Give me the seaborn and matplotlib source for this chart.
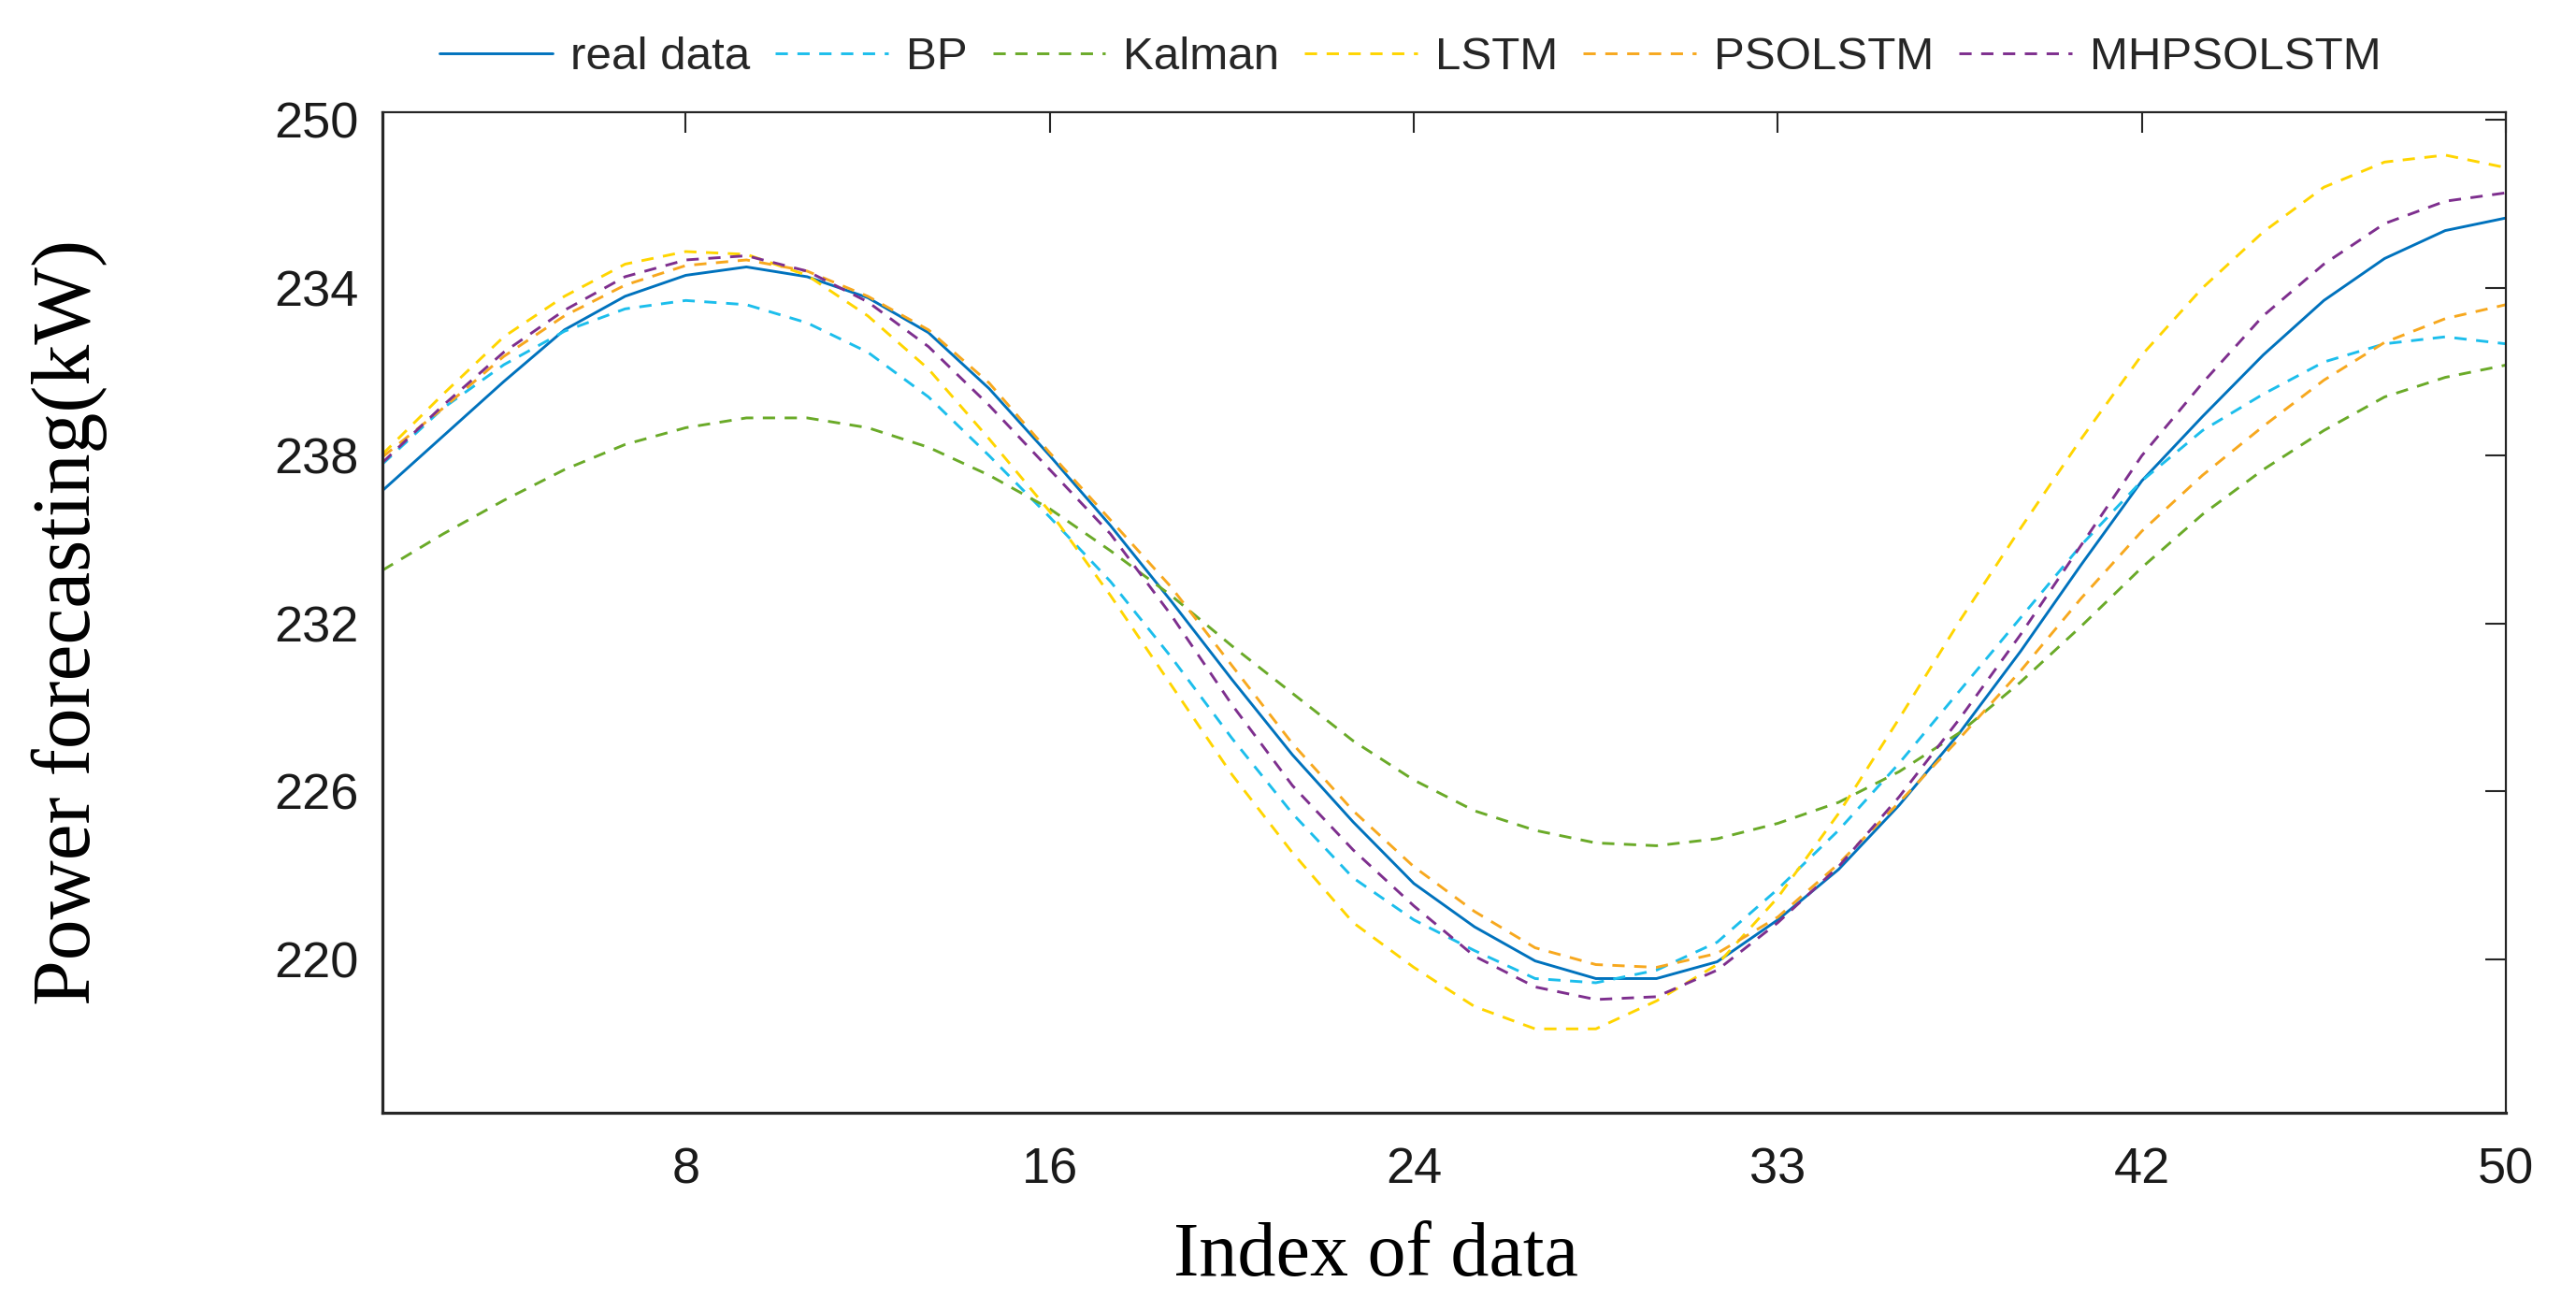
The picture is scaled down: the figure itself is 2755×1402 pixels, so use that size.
import numpy as np
import pandas as pd
import matplotlib
matplotlib.use("Agg")
import matplotlib.pyplot as plt
import seaborn as sns

# ---------------- data ----------------
idx = list(range(1, 37))

real_data = [236.75, 238.7, 240.65, 242.5, 243.7, 244.45, 244.75, 244.4, 243.65, 242.4,
             240.4, 238.0, 235.5, 232.8, 230.0, 227.3, 224.9, 222.7, 221.15, 219.93,
             219.3, 219.3, 219.9, 221.4, 223.2, 225.5, 228.1, 231.0, 234.1, 237.1,
             239.4, 241.6, 243.55, 245.05, 246.05, 246.5]
bp = [237.7, 239.7, 241.25, 242.45, 243.25, 243.55, 243.4, 242.75, 241.7, 240.1,
      238.0, 235.8, 233.5, 230.8, 227.9, 225.2, 222.9, 221.4, 220.3, 219.3,
      219.15, 219.6, 220.6, 222.5, 224.6, 227.0, 229.6, 232.2, 234.8, 237.1,
      238.9, 240.2, 241.35, 242.0, 242.25, 242.0]
kalman = [233.9, 235.2, 236.4, 237.5, 238.4, 239.0, 239.35, 239.35, 239.0, 238.3,
          237.3, 236.1, 234.6, 233.0, 231.2, 229.5, 227.8, 226.4, 225.3, 224.6,
          224.15, 224.05, 224.3, 224.85, 225.6, 226.7, 228.1, 229.9, 231.9, 234.0,
          235.9, 237.5, 238.9, 240.1, 240.8, 241.24]
lstm = [238.05, 240.2, 242.25, 243.7, 244.85, 245.3, 245.2, 244.45, 243.0, 241.1,
        238.6, 236.0, 233.0, 229.8, 226.6, 223.8, 221.3, 219.7, 218.3, 217.5,
        217.5, 218.5, 219.8, 222.2, 225.2, 228.6, 232.1, 235.4, 238.6, 241.6,
        244.0, 246.0, 247.6, 248.5, 248.75, 248.3]
psolstm = [237.95, 239.7, 241.55, 243.0, 244.1, 244.8, 245.0, 244.6, 243.7, 242.5,
           240.6, 238.1, 235.7, 233.3, 230.5, 227.7, 225.3, 223.3, 221.7, 220.4,
           219.8, 219.7, 220.2, 221.5, 223.4, 225.6, 227.9, 230.3, 232.9, 235.3,
           237.3, 239.05, 240.7, 242.05, 242.9, 243.4]
mhpsolstm = [237.75, 239.8, 241.7, 243.2, 244.4, 245.0, 245.15, 244.6, 243.5, 241.9,
             239.8, 237.5, 235.2, 232.3, 229.1, 226.2, 223.9, 221.9, 220.1, 219.0,
             218.55, 218.65, 219.6, 221.3, 223.3, 225.8, 228.6, 231.6, 234.8, 238.0,
             240.6, 243.0, 244.85, 246.3, 247.1, 247.4]

series_names = ["real data", "BP", "Kalman", "LSTM", "PSOLSTM", "MHPSOLSTM"]
series_values = [real_data, bp, kalman, lstm, psolstm, mhpsolstm]

xtick_pos = [6, 12, 18, 24, 30, 36]
xtick_labels = ["8", "16", "24", "33", "42", "50"]
ytick_pos = [220, 226, 232, 238, 244, 250]
ytick_labels = ["220", "226", "232", "238", "234", "250"]

# ---------------- styling ----------------
colors = {"real data": "#0072BD", "BP": "#1CBEEC", "Kalman": "#6AAA28",
          "LSTM": "#FFD500", "PSOLSTM": "#F7A81E", "MHPSOLSTM": "#7E2F8E"}
dash = (4.5, 3.5)
dashes = {"real data": "", "BP": dash, "Kalman": dash, "LSTM": dash,
          "PSOLSTM": dash, "MHPSOLSTM": dash}

sns.set_theme(style="white")
plt.rcParams["font.family"] = ["Liberation Sans", "DejaVu Sans"]

df = pd.concat([pd.DataFrame({"x": idx, "value": v, "model": n})
                for n, v in zip(series_names, series_values)], ignore_index=True)

W, H = 2755, 1402
fig = plt.figure(figsize=(W / 100, H / 100), dpi=100)
left, right, top, bottom = 409, 2680, 119.5, 1190
ax = fig.add_axes([left / W, 1 - bottom / H, (right - left) / W, (bottom - top) / H])

sns.lineplot(data=df, x="x", y="value", hue="model", style="model",
             hue_order=series_names, style_order=series_names,
             palette=colors, dashes=dashes, linewidth=2.1,
             estimator=None, sort=False, legend=False, ax=ax)

ax.set_xlim(1, 36)
ax.set_ylim(214.5, 250.3)
ax.set_xticks(xtick_pos)
ax.set_xticklabels(xtick_labels)
ax.set_yticks(ytick_pos)
ax.set_yticklabels(ytick_labels)

edge = "#262626"
for side in ["left", "bottom"]:
    ax.spines[side].set_linewidth(2.3)
    ax.spines[side].set_color(edge)
for side in ["top", "right"]:
    ax.spines[side].set_linewidth(1.6)
    ax.spines[side].set_color(edge)

ax.tick_params(axis="both", which="major", direction="in", length=16, width=1.5,
               color=edge, labelcolor="#1a1a1a", labelsize=39, top=True, right=True)
ax.tick_params(axis="x", pad=26)
ax.tick_params(axis="y", pad=18)

serif = ["Liberation Serif", "DejaVu Serif"]
ax.set_xlabel("Index of data", fontsize=59, family=serif, color="black", va="center")
ax.xaxis.set_label_coords(0.468, -0.144)
ax.set_ylabel("Power forecasting(kW)", fontsize=63, family=serif, color="black", va="center")
ax.yaxis.set_label_coords(-0.1475, 0.49)

handles = ax.get_lines()[:len(series_names)]
fig.legend(handles, series_names, loc="center", bbox_to_anchor=(0.5475, 0.956),
           ncol=6, frameon=False, fontsize=35.5, handlelength=2.45,
           handletextpad=0.38, columnspacing=0.55, borderaxespad=0)

fig.savefig("out.png", dpi=100)
